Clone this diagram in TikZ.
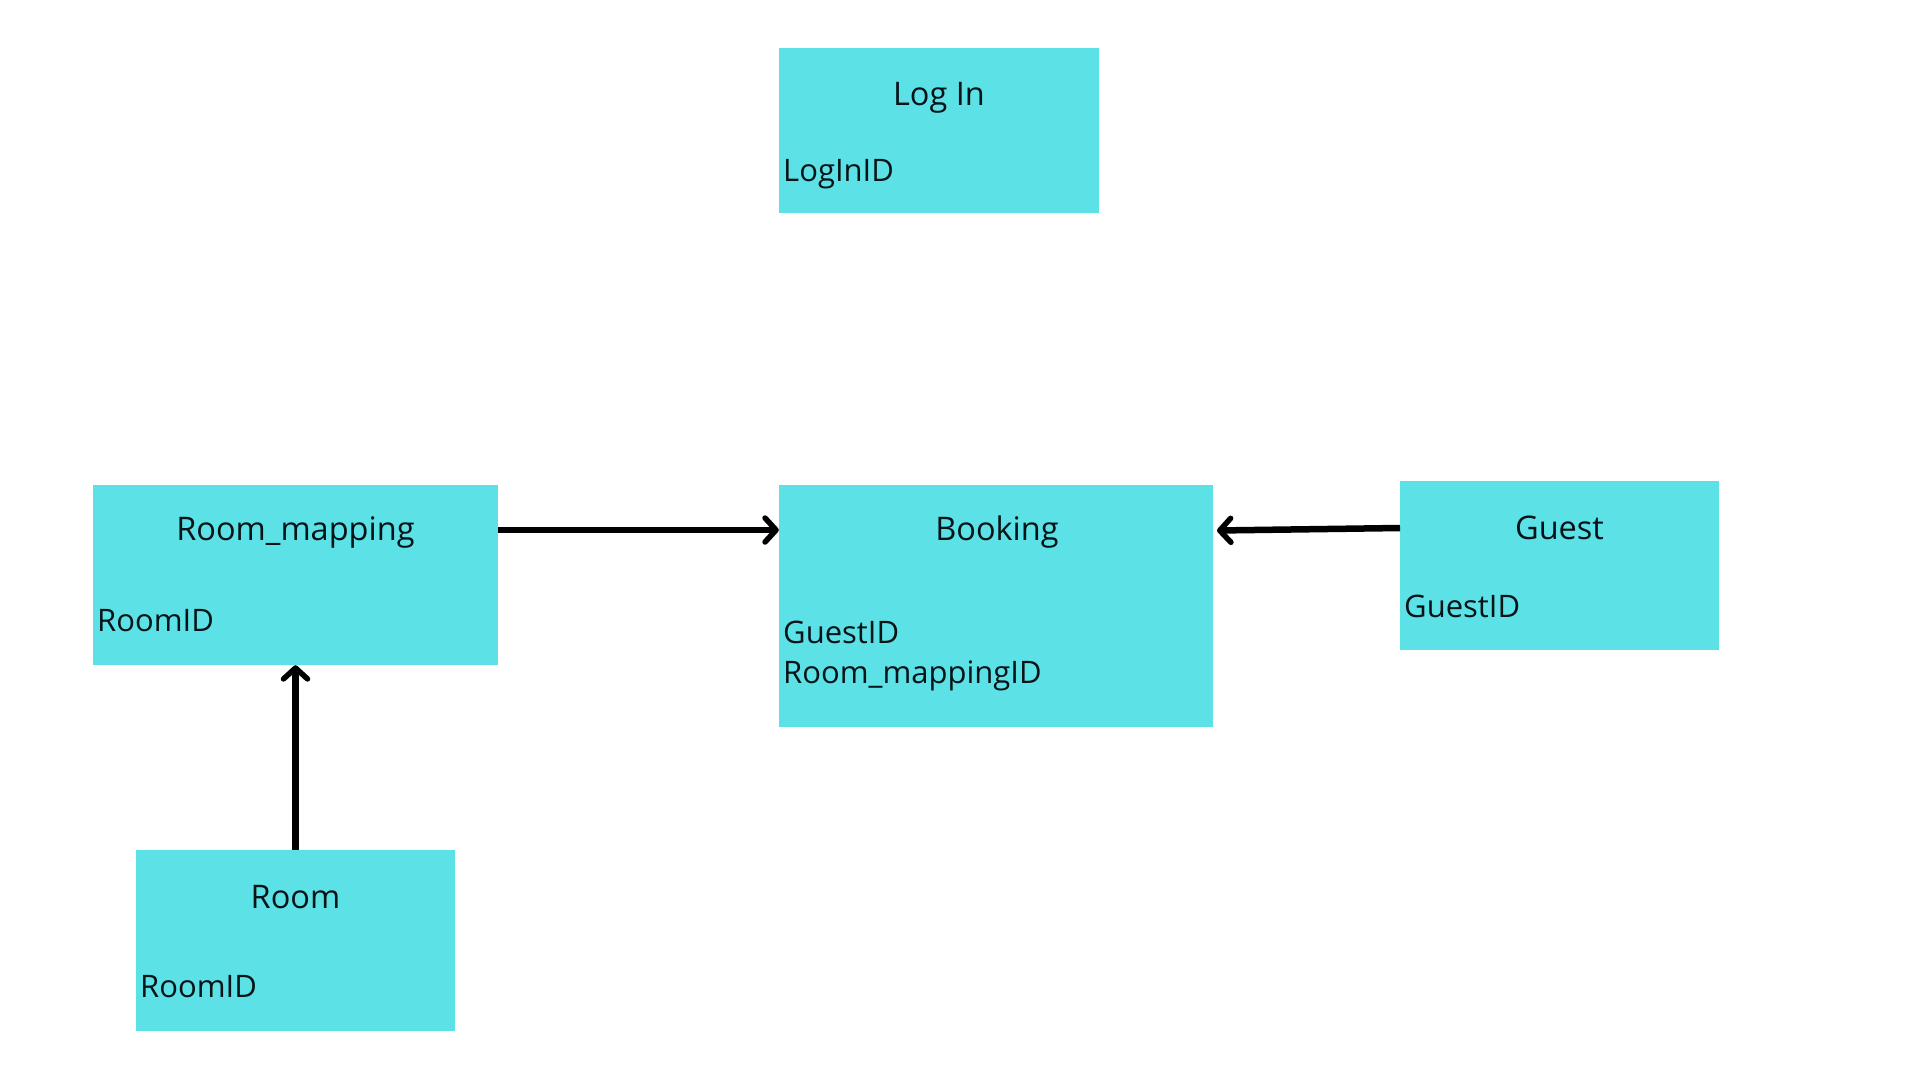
\documentclass[tikz,border=0pt]{standalone}
\usepackage{fontspec}
\setmainfont{Open Sans}
\usetikzlibrary{arrows.meta}
\definecolor{boxcyan}{HTML}{5CE1E6}
\definecolor{txt}{HTML}{061418}
\tikzset{
  entity/.style={fill=boxcyan, draw=none, inner sep=0pt},
  ttl/.style={font=\fontsize{32.5}{38}\selectfont, text=txt, inner sep=0pt, anchor=center},
  attr/.style={font=\fontsize{31}{36}\selectfont, text=txt, inner sep=0pt, anchor=west},
  conn/.style={line width=6.5pt, draw=black, -{Straight Barb[length=11pt,width=24pt,line width=5.5pt,round]}},
}
\begin{document}
\begin{tikzpicture}[x=1pt,y=-1pt]
\useasboundingbox[fill=white] (0,0) rectangle (1920,1080);
% boxes
\node[entity, minimum width=320pt, minimum height=165pt] (login) at (939,130.5) {};
\node[entity, minimum width=405pt, minimum height=180pt] (rm) at (295.5,575) {};
\node[entity, minimum width=434pt, minimum height=242pt] (bk) at (996,606) {};
\node[entity, minimum width=319pt, minimum height=169pt] (guest) at (1559.5,565.5) {};
\node[entity, minimum width=319pt, minimum height=181pt] (room) at (295.5,940.5) {};
% titles
\node[ttl] (loginT) at (939,98) {Log In};
\node[ttl] (rmT) at (295.5,532) {Room\_mapping};
\node[ttl] (bkT) at (997,532) {Booking};
\node[ttl] (guestT) at (1559.5,528) {Guest};
\node[ttl] (roomT) at (295.5,897) {Room};
% attributes
\node[attr] (loginA) at (783,174) {LogInID};
\node[attr] (rmA) at (97,621) {RoomID};
\node[attr] (bkA1) at (783,632) {GuestID};
\node[attr] (bkA2) at (783,676) {Room\_mappingID};
\node[attr] (guestA) at (1404,606) {GuestID};
\node[attr] (roomA) at (140,987) {RoomID};
% connectors
\coordinate (rmOut) at (rm.east |- 0,530);
\coordinate (bkIn) at (bk.west |- 0,530);
\draw[conn] (rmOut) -- (bkIn);
\coordinate (guestOut) at (1400,528);
\coordinate (bkIn2) at (1217,530.5);
\draw[conn] (guestOut) -- (bkIn2);
\draw[conn] (room.north) -- (rm.south);
\end{tikzpicture}
\end{document}
